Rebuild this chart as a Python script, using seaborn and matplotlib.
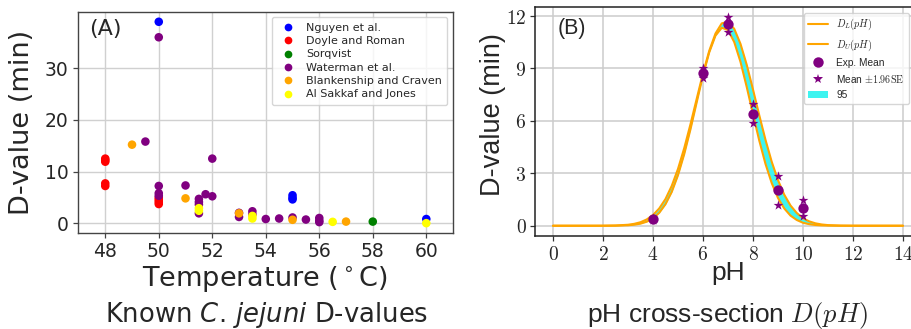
import matplotlib
matplotlib.use("Agg")
import matplotlib.pyplot as plt
from matplotlib.ticker import FuncFormatter
from matplotlib.font_manager import FontProperties
from matplotlib.patches import Patch
from matplotlib.lines import Line2D
import pandas as pd
import seaborn as sns

# ---------------- Panel A data ----------------
studies = ["Nguyen et al.", "Doyle and Roman", "Sorqvist", "Waterman et al.",
           "Blankenship and Craven", "Al Sakkaf and Jones"]
study_colors = ["blue", "red", "green", "purple", "orange", "yellow"]

nguyen_T = [50, 55, 55, 55, 60]
nguyen_D = [39.0, 5.4, 4.9, 4.6, 0.8]
doyle_T = [48, 48, 48, 48, 48, 50, 50, 50, 50]
doyle_D = [12.5, 12.2, 11.9, 7.7, 7.2, 4.9, 4.5, 4.1, 3.7]
sorqvist_T = [58]
sorqvist_D = [0.3]
waterman_T = [49.5, 50, 50, 50, 50, 51, 51.5, 51.5, 51.5, 51.5, 51.75, 52, 52,
              53, 53, 53.5, 53.5, 54, 54.5, 55, 55.5, 56, 56, 56]
waterman_D = [15.8, 36.0, 7.2, 5.8, 5.3, 7.3, 4.7, 4.1, 3.6, 1.9, 5.6, 12.5, 5.2,
              2.0, 1.2, 2.3, 1.7, 0.8, 0.9, 1.1, 0.7, 1.0, 0.5, 0.2]
blank_T = [49, 51, 53, 55, 57]
blank_D = [15.2, 4.8, 1.9, 0.65, 0.3]
sakkaf_T = [51.5, 51.5, 53.5, 53.5, 56.5, 60]
sakkaf_D = [2.9, 2.4, 1.4, 0.9, 0.25, 0.0]

temp_ticks = [48, 50, 52, 54, 56, 58, 60]
dval_ticks_A = [0, 10, 20, 30]

# ---------------- Panel B data ----------------
pH_grid = [0, 1, 2, 2.5, 3, 3.25, 3.5, 3.75, 4, 4.25, 4.5, 4.75, 5, 5.25, 5.5,
           5.75, 6, 6.25, 6.5, 6.75, 7, 7.25, 7.5, 7.75, 8, 8.25, 8.5, 8.75, 9,
           9.25, 9.5, 9.75, 10, 10.25, 10.5, 10.75, 11, 11.5, 12, 13, 14]
D_lower = [0, 0, 0, 0.005, 0.027, 0.059, 0.119, 0.23, 0.42, 0.74, 1.23, 1.93,
           2.89, 4.10, 5.52, 7.07, 8.60, 9.92, 10.88, 11.33, 11.20, 10.51, 9.38,
           7.94, 6.39, 4.88, 3.54, 2.44, 1.59, 0.99, 0.58, 0.33, 0.17, 0.088,
           0.042, 0.019, 0.008, 0.001, 0, 0, 0]
D_upper = [0, 0, 0.001, 0.013, 0.056, 0.109, 0.20, 0.36, 0.61, 0.99, 1.53, 2.28,
           3.25, 4.44, 5.81, 7.27, 8.72, 10.01, 11.00, 11.58, 11.67, 11.27, 10.41,
           9.21, 7.80, 6.33, 4.92, 3.66, 2.61, 1.78, 1.16, 0.73, 0.43, 0.25,
           0.137, 0.072, 0.036, 0.008, 0.001, 0, 0]
mean_pH = [4, 6, 7, 8, 9, 10]
mean_D = [0.40, 8.72, 11.54, 6.40, 2.02, 1.01]
se_pH = [4, 4, 6, 6, 7, 7, 8, 8, 9, 9, 10, 10]
se_D = [0.47, 0.33, 9.00, 8.45, 11.96, 11.10, 6.97, 5.87, 2.82, 1.20, 1.49, 0.53]

ph_ticks = [0, 2, 4, 6, 8, 10, 12, 14]
dval_ticks_B = [0, 3, 6, 9, 12]

# ---------------- style ----------------
sns.set_theme(style="ticks")
plt.rcParams["font.family"] = ["DejaVu Sans"]
plt.rcParams["mathtext.fontset"] = "cm"

W, H = 911, 329
fig = plt.figure(figsize=(W / 100, H / 100), dpi=100)
axA = fig.add_axes([0.0853, 0.2927, 0.4120, 0.6717])
axB = fig.add_axes([0.5878, 0.2836, 0.4226, 0.6942])

# ---------------- Panel A ----------------
rows = []
for name, T, D in zip(studies,
                      [nguyen_T, doyle_T, sorqvist_T, waterman_T, blank_T, sakkaf_T],
                      [nguyen_D, doyle_D, sorqvist_D, waterman_D, blank_D, sakkaf_D]):
    for t, d in zip(T, D):
        rows.append({"study": name, "T": t, "D": d})
dfA = pd.DataFrame(rows)

sns.scatterplot(data=dfA, x="T", y="D", hue="study", hue_order=studies,
                palette=dict(zip(studies, study_colors)), s=38, linewidth=0,
                ax=axA, zorder=3)
axA.set_xlim(46.97, 61.0)
axA.set_ylim(-1.85, 40.95)
axA.set_xticks(temp_ticks)
axA.set_yticks(dval_ticks_A)
axA.grid(True, color="#d0d0d0", lw=1.0)
axA.set_axisbelow(True)
for sp in axA.spines.values():
    sp.set_color("#444444")
    sp.set_linewidth(1.0)
axA.tick_params(axis="both", labelsize=13.5, length=3.5, width=0.9,
                color="#444444", pad=3)
axA.set_xlabel(r"Temperature ($^\circ$C)", fontsize=19.5,
               math_fontfamily="dejavusans")
axA.set_ylabel("D-value (min)", fontsize=19.5)
axA.xaxis.set_label_coords(0.5, -0.14)
axA.yaxis.set_label_coords(-0.113, 0.5)
axA.text(0.03, 0.965, "(A)", transform=axA.transAxes, ha="left", va="top",
         fontsize=16)
hA, lA = axA.get_legend_handles_labels()
axA.legend(hA, lA, loc="upper right", fontsize=8, labelspacing=0.3,
           handletextpad=0.6, borderpad=0.5, markerscale=0.9)

# ---------------- Panel B ----------------
sansB = "Liberation Sans"
band_color = "#3ef4f0"
axB.fill_between(pH_grid, D_lower, D_upper, color=band_color, lw=0, zorder=2)
sns.lineplot(x=pH_grid, y=D_lower, color="orange", lw=1.5, ax=axB, zorder=3)
sns.lineplot(x=pH_grid, y=D_upper, color="orange", lw=1.5, ax=axB, zorder=3)
sns.scatterplot(x=mean_pH, y=mean_D, color="purple", marker="o", s=55,
                linewidth=0, ax=axB, zorder=4)
sns.scatterplot(x=se_pH, y=se_D, color="purple", marker="*", s=55,
                linewidth=0, ax=axB, zorder=5)
axB.set_xlim(-0.7, 14.7)
axB.set_ylim(-0.57, 12.5)
axB.set_xticks(ph_ticks)
axB.set_yticks(dval_ticks_B)
axB.xaxis.set_major_formatter(FuncFormatter(lambda v, p: f"${v:g}$"))
axB.yaxis.set_major_formatter(FuncFormatter(lambda v, p: f"${v:g}$"))
axB.grid(True, color="#cccccc", lw=1.1)
axB.set_axisbelow(True)
for sp in axB.spines.values():
    sp.set_color("#222222")
    sp.set_linewidth(1.1)
axB.tick_params(axis="both", labelsize=14, length=3.5, width=0.9,
                color="#333333", pad=3)
axB.set_xlabel("pH", fontsize=19, family=sansB)
axB.set_ylabel("D-value (min)", fontsize=19.5, family=sansB)
axB.xaxis.set_label_coords(0.5, -0.11)
axB.yaxis.set_label_coords(-0.076, 0.53)
axB.text(0.058, 0.955, "(B)", transform=axB.transAxes, ha="left", va="top",
         fontsize=15.5, family=sansB)

handlesB = [
    Line2D([], [], color="orange", lw=1.5),
    Line2D([], [], color="orange", lw=1.5),
    Line2D([], [], color="purple", marker="o", ls="none", markersize=7.5,
           markeredgewidth=0),
    Line2D([], [], color="purple", marker="*", ls="none", markersize=7.5,
           markeredgewidth=0),
    Patch(facecolor=band_color, edgecolor="none"),
]
labelsB = [r"$D_L(pH)$", r"$D_U(pH)$", "Exp. Mean", r"Mean $\pm1.96\mathrm{SE}$", "95"]
axB.legend(handlesB, labelsB, loc="upper left",
           bbox_to_anchor=(804 / W, 1 - 13 / H), bbox_transform=fig.transFigure,
           borderaxespad=0.0,
           prop=FontProperties(family=sansB, size=7.3, math_fontfamily="cm"),
           labelspacing=0.5, handlelength=2.0, handletextpad=0.8)

# ---------------- captions ----------------
fig.text(0.293, 0.022, r"Known $\it{C.\,jejuni}$ D-values", ha="center",
         va="baseline", fontsize=18.6, math_fontfamily="dejavusans")
fig.text(0.7985, 0.022, r"pH cross-section $D(pH)$", ha="center",
         va="baseline", fontsize=19, family=sansB, math_fontfamily="cm")

fig.savefig("out.png", dpi=100)
